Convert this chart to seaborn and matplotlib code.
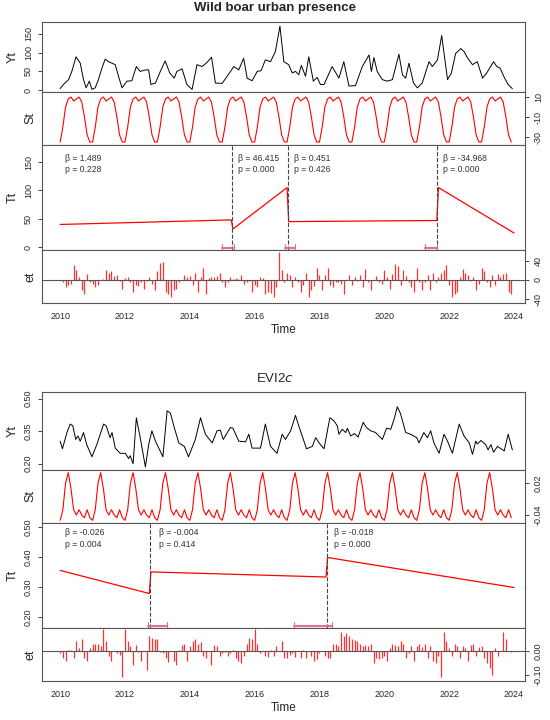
import numpy as np
import pandas as pd
import matplotlib
matplotlib.use("Agg")
import matplotlib.pyplot as plt
import seaborn as sns

sns.set_style("white")
plt.rcParams['font.family'] = ['Arial', 'Liberation Sans', 'DejaVu Sans']

# ---------------- Wild boar data ----------------
boar_t = [0, .10, .26, .36, .49, .62, .72, .80, .90, .98, 1.08, 1.18, 1.29, 1.39, 1.49, 1.70, 1.80, 1.91,
          2.06, 2.21, 2.35, 2.47, 2.63, 2.73, 2.80, 2.94, 3.09, 3.24, 3.38, 3.52, 3.60, 3.76, 3.91, 4.07,
          4.22, 4.38, 4.53, 4.67, 4.79, 5.00, 5.15, 5.36, 5.51, 5.66, 5.77, 5.92, 6.08, 6.20, 6.33, 6.49,
          6.64, 6.78, 6.90, 7.05, 7.16, 7.26, 7.36, 7.44, 7.57, 7.67, 7.81, 7.93, 8.03, 8.14, 8.39, 8.60,
          8.75, 8.91, 9.11, 9.32, 9.53, 9.60, 9.68, 9.78, 9.94, 10.09, 10.25, 10.45, 10.56, 10.66, 10.76,
          10.90, 11.02, 11.17, 11.38, 11.48, 11.64, 11.77, 11.95, 12.07, 12.20, 12.36, 12.46, 12.56, 12.72,
          12.87, 13.03, 13.16, 13.37, 13.47, 13.57, 13.70, 13.82, 13.95]
boar_y = [4, 15, 28, 50, 89, 72, 28, 6, 24, 2, 6, 28, 59, 83, 76, 68, 37, 6, 24, 25, 63, 50, 54, 54, 15,
          19, 50, 78, 46, 32, 50, 57, 15, 2, 68, 63, 74, 88, 19, 18, 37, 63, 54, 85, 32, 25, 50, 52, 81, 76,
          103, 171, 76, 68, 46, 50, 41, 66, 37, 89, 24, 34, 15, 15, 63, 32, 76, 11, 12, 63, 94, 50, 87, 50,
          28, 24, 28, 96, 41, 32, 72, 19, 6, 19, 76, 63, 81, 146, 28, 46, 98, 111, 103, 87, 68, 76, 32, 46,
          76, 63, 59, 34, 15, 4]
boar_season = [-35, -20, 0, 8, 10, 6, 8, 10, 5, -10, -28, -35]
boar_trend_t = [2010.0, 2015.28, 2015.33, 2017.0, 2017.05, 2021.62, 2021.67, 2024.0]
boar_trend_v = [40, 48, 32, 105, 45, 47, 105, 25]
boar_breaks = [2015.3, 2017.02, 2021.64]
boar_ci = [(2015.0, 2015.36), (2016.95, 2017.25), (2021.25, 2021.64)]
boar_stats = [("β = 1.489", "p = 0.228", 2010.05), ("β = 46.415", "p = 0.000", 2015.4),
              ("β = 0.451", "p = 0.426", 2017.1), ("β = -34.968", "p = 0.000", 2021.7)]
boar_resid = [0, -5, -15, -10, -8, 30, 20, 5, -20, -30, 12, -5,
              -8, -15, -10, 0, 2, 20, 15, 18, 8, 10, -2, -18,
              3, 5, -5, -25, -10, -12, -5, -18, -2, 5, -8, -20,
              18, 35, 38, -25, -30, -35, -20, -18, -5, 0, 10, 5,
              8, -10, 15, -25, 5, 25, -30, 3, 5, 5, 8, 15,
              -5, -15, -5, 5, 2, 3, 2, 10, -8, -5, -3, -25,
              -10, -15, 5, 3, -30, -25, -28, -35, -15, 58, 20, -5,
              15, 10, -15, 5, -5, -25, -10, 15, -35, -20, -12, 25,
              10, -22, 10, 25, -10, -15, -5, -5, -8, -30, 0, 10,
              -10, 5, -2, 10, -15, 22, -5, -20, 0, 8, -5, -8,
              20, 5, -18, 12, 32, 28, -10, 20, 8, -5, -15, -25,
              25, -5, -22, -5, 10, -20, 15, -5, 5, 15, 20, 30,
              -10, -35, -30, -25, 5, 22, 15, 10, -3, 5, -20, -8,
              25, 18, -5, -15, 10, -10, 12, 5, 12, 15, -25, -30]

# ---------------- EVI2c data ----------------
evi_t = [0, .07, .21, .31, .39, .48, .55, .62, .72, .82, .98, 1.13, 1.34, 1.42, 1.54, 1.60, 1.70, 1.85,
         2.01, 2.11, 2.16, 2.25, 2.35, 2.47, 2.63, 2.73, 2.83, 2.94, 3.17, 3.30, 3.40, 3.52, 3.66, 3.83,
         3.96, 4.17, 4.33, 4.48, 4.69, 4.84, 4.94, 5.03, 5.25, 5.33, 5.51, 5.72, 5.82, 5.92, 6.18, 6.33,
         6.49, 6.69, 6.85, 6.95, 7.11, 7.26, 7.36, 7.60, 7.78, 7.88, 8.03, 8.14, 8.32, 8.44, 8.55, 8.60,
         8.70, 8.81, 8.86, 8.96, 9.08, 9.19, 9.35, 9.45, 9.58, 9.73, 9.94, 10.07, 10.20, 10.32, 10.40,
         10.50, 10.66, 10.81, 11.00, 11.07, 11.22, 11.33, 11.43, 11.53, 11.69, 11.84, 11.95, 12.10, 12.31,
         12.46, 12.62, 12.72, 12.82, 12.87, 12.98, 13.13, 13.20, 13.29, 13.37, 13.49, 13.70, 13.82, 13.95]
evi_y = [.303, .268, .343, .382, .374, .311, .327, .303, .343, .287, .231, .287, .382, .374, .319, .343,
         .271, .247, .247, .223, .236, .199, .411, .319, .184, .287, .351, .303, .231, .443, .433, .366,
         .295, .279, .231, .311, .411, .335, .295, .351, .354, .311, .366, .363, .303, .300, .335, .271,
         .271, .382, .279, .247, .335, .311, .351, .422, .374, .268, .279, .319, .287, .268, .411, .398,
         .374, .335, .358, .343, .363, .327, .338, .322, .390, .366, .351, .343, .311, .363, .358, .414,
         .462, .430, .343, .335, .319, .295, .343, .319, .351, .295, .247, .335, .303, .247, .382, .327,
         .295, .242, .303, .290, .306, .287, .263, .287, .252, .279, .258, .335, .263]
evi_season = [-0.05, -0.03, 0.02, 0.04, 0.01, -0.03, -0.04, -0.03, -0.04, -0.045, -0.03, -0.045]
evi_trend_t = [2010.0, 2012.75, 2012.8, 2018.2, 2018.25, 2024.0]
evi_trend_v = [0.355, 0.278, 0.350, 0.333, 0.398, 0.298]
evi_breaks = [2012.77, 2018.22]
evi_ci = [(2012.7, 2013.3), (2017.2, 2018.4)]
evi_stats = [("β = -0.026", "p = 0.004", 2010.05), ("β = -0.004", "p = 0.414", 2012.95),
             ("β = -0.018", "p = 0.000", 2018.35)]
evi_resid = [-0.01, -0.03, -0.04, 0.005, 0.002, -0.03, 0.04, 0.01, 0.05, -0.03, -0.04, 0.01,
             0.03, 0.03, 0.03, 0.02, 0.09, 0.04, -0.02, -0.04, 0.0, -0.01, -0.015, -0.11,
             0.09, 0.04, 0.02, -0.06, 0.025, -0.005, -0.04, 0.0, -0.08, 0.06, 0.055, 0.05,
             0.05, -0.005, -0.01, -0.03, -0.045, 0.0, -0.04, -0.06, 0.005, 0.025, 0.03, -0.04,
             0.02, 0.04, 0.05, 0.03, 0.035, -0.02, -0.03, 0.0, -0.06, 0.025, 0.02, -0.02,
             -0.01, -0.005, -0.02, -0.01, 0.005, -0.03, -0.04, -0.05, -0.02, 0.03, 0.055, 0.05,
             0.09, 0.03, -0.01, 0.0, -0.02, -0.025, 0.005, -0.02, 0.02, 0.0, 0.04, -0.03,
             -0.03, -0.015, -0.01, -0.025, 0.0, -0.03, 0.005, -0.03, 0.0, -0.02, -0.04, -0.035,
             -0.01, 0.0, -0.02, -0.03, -0.03, 0.03, 0.03, 0.02, 0.08, 0.06, 0.075, 0.06,
             0.05, 0.045, 0.04, 0.03, 0.02, 0.025, 0.02, 0.03, -0.05, -0.03, -0.035, -0.03,
             -0.02, -0.04, 0.01, 0.03, 0.025, 0.02, 0.04, 0.03, -0.03, -0.01, 0.02, -0.04,
             0.02, 0.03, 0.015, 0.03, -0.03, 0.02, -0.04, -0.05, -0.02, -0.11, 0.08, 0.04,
             0.01, -0.02, 0.03, 0.02, -0.03, 0.02, 0.01, -0.04, 0.025, 0.03, -0.02, 0.015,
             0.02, -0.03, -0.05, -0.07, -0.1, 0.01, -0.02, 0.0, 0.08, 0.05, 0.0, -0.005]

W, H = 550, 720
fig = plt.figure(figsize=(5.5, 7.2), dpi=100)
XL = (2009.44, 2024.34)
years = [2010, 2012, 2014, 2016, 2018, 2020, 2022, 2024]


def add_ax(top, bottom):
    return fig.add_axes([42 / W, 1 - bottom / H, 483 / W, (bottom - top) / H])


def style(ax, label, ylim, yticks, right=False, fmt="{:g}"):
    ax.set_xlim(*XL)
    ax.set_ylim(*ylim)
    ax.set_xticks(years)
    ax.tick_params(axis="x", length=3, labelbottom=False, width=0.6)
    ax.set_yticks(yticks)
    ax.set_yticklabels([fmt.format(v) for v in yticks], rotation=90, va="center", fontsize=6.5)
    ax.tick_params(axis="y", length=3, width=0.6, left=not right, labelleft=not right,
                   right=right, labelright=right)
    ax.set_ylabel(label, fontsize=9)
    ax.yaxis.set_label_position("left")
    for s in ax.spines.values():
        s.set_color("#555555")
        s.set_linewidth(0.8)


def block(top, h, title, t, y, season, tr_t, tr_v, breaks, ci, stats, resid, lims, ticks, fmt,
          tpos, bold):
    fig.text(0.5, 1 - (top - 14) / H, title, ha="center", va="center", fontsize=9.5,
             fontweight="bold" if bold else "normal")
    edges = np.cumsum([top] + h)
    axs = [add_ax(edges[i], edges[i + 1]) for i in range(4)]
    months = 2010 + np.arange(len(resid)) / 12
    # Yt
    sns.lineplot(x=2010 + np.array(t), y=y, ax=axs[0], color="black", lw=0.7)
    # St
    st = np.tile(season, len(resid) // 12)
    sns.lineplot(x=months, y=st, ax=axs[1], color="red", lw=0.8)
    # Tt
    sns.lineplot(x=tr_t, y=tr_v, ax=axs[2], color="red", lw=0.9, sort=False)
    for b in breaks:
        axs[2].axvline(b, color="#444444", ls="--", lw=0.8)
    rng = lims[2][1] - lims[2][0]
    lo = lims[2][0] + 0.015 * rng
    for a, b in ci:
        axs[2].plot([a, b], [lo, lo], color="#e07090", lw=1.5)
        for e in (a, b):
            axs[2].plot([e, e], [lo - 0.01 * rng, lo + 0.04 * rng], color="#e07090", lw=0.8)
    for s1, s2, x0 in stats:
        axs[2].text(x0 + 0.1, tpos, s1 + "\n" + s2, fontsize=6.2, va="top", color="#333333",
                    linespacing=1.4)
    # et
    axs[3].vlines(months, 0, resid, color="#ff3030", lw=0.9)
    axs[3].axhline(0, color="#555555", lw=0.8)
    names = ["Yt", "St", "Tt", "et"]
    for i, ax in enumerate(axs):
        style(ax, names[i], lims[i], ticks[i], right=(i % 2 == 1), fmt=fmt[i])
    axs[3].tick_params(axis="x", labelbottom=True, labelsize=6.5)
    axs[3].set_xlabel("Time", fontsize=8.5, labelpad=2)


block(22, [70, 53, 105, 53], "Wild boar urban presence", boar_t, boar_y, boar_season,
      boar_trend_t, boar_trend_v, boar_breaks, boar_ci, boar_stats, boar_resid,
      [(-5, 182), (-38, 15), (-5, 180), (-48, 62)],
      [[0, 50, 100, 150], [-30, -10, 10], [0, 50, 100, 150], [-40, 0, 40]],
      ["{:g}"] * 4, 165, True)

block(392, [78, 53, 105, 53], "EVI2$\\it{c}$", evi_t, evi_y, evi_season, evi_trend_t,
      evi_trend_v, evi_breaks, evi_ci, evi_stats, evi_resid,
      [(0.17, 0.53), (-0.055, 0.045), (0.163, 0.513), (-0.125, 0.095)],
      [[0.20, 0.35, 0.50], [-0.04, 0.02], [0.20, 0.30, 0.40, 0.50], [-0.10, 0.00]],
      ["{:.2f}"] * 4, 0.495, False)

fig.savefig("out.png", dpi=100, facecolor="white")
